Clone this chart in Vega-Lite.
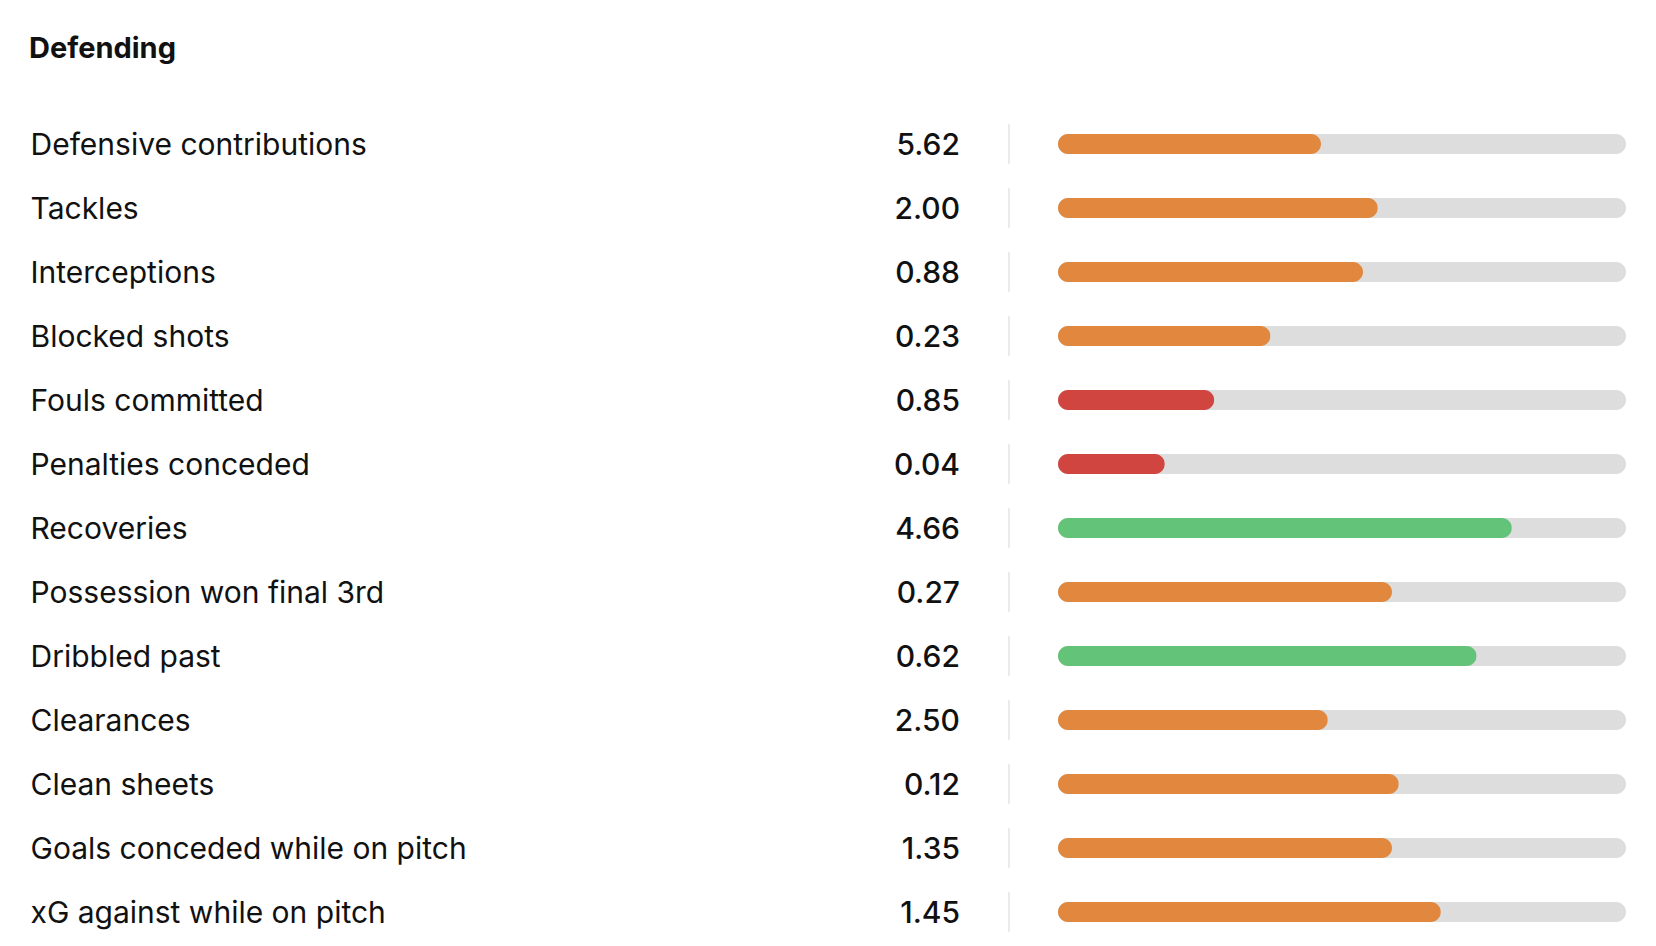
{
  "$schema": "https://vega.github.io/schema/vega-lite/v6.json",
  "width": 568,
  "height": 832,
  "autosize": {"type": "none"},
  "padding": {"left": 1058, "right": 30, "top": 112, "bottom": 2},
  "background": "#ffffff",
  "title": {
    "text": "Defending",
    "anchor": "start",
    "frame": "bounds",
    "font": "Inter",
    "fontSize": 29,
    "fontWeight": "bold",
    "color": "#111111",
    "baseline": "alphabetic",
    "offset": 25,
    "dx": -1
  },
  "config": {
    "view": {"stroke": null},
    "font": "Inter"
  },
  "data": {
    "values": [
      {"stat": "Defensive contributions", "value": "5.62", "pct": 46.3, "tier": "average"},
      {"stat": "Tackles", "value": "2.00", "pct": 56.3, "tier": "average"},
      {"stat": "Interceptions", "value": "0.88", "pct": 53.7, "tier": "average"},
      {"stat": "Blocked shots", "value": "0.23", "pct": 37.4, "tier": "average"},
      {"stat": "Fouls committed", "value": "0.85", "pct": 27.5, "tier": "poor"},
      {"stat": "Penalties conceded", "value": "0.04", "pct": 18.8, "tier": "poor"},
      {"stat": "Recoveries", "value": "4.66", "pct": 79.9, "tier": "good"},
      {"stat": "Possession won final 3rd", "value": "0.27", "pct": 58.8, "tier": "average"},
      {"stat": "Dribbled past", "value": "0.62", "pct": 73.7, "tier": "good"},
      {"stat": "Clearances", "value": "2.50", "pct": 47.5, "tier": "average"},
      {"stat": "Clean sheets", "value": "0.12", "pct": 60.0, "tier": "average"},
      {"stat": "Goals conceded while on pitch", "value": "1.35", "pct": 58.8, "tier": "average"},
      {"stat": "xG against while on pitch", "value": "1.45", "pct": 67.4, "tier": "average"}
    ]
  },
  "encoding": {
    "y": {
      "field": "stat",
      "type": "nominal",
      "sort": null,
      "scale": {"paddingInner": 0, "paddingOuter": 0},
      "axis": {
        "title": null,
        "domain": false,
        "ticks": false,
        "grid": false,
        "labelAlign": "left",
        "labelBaseline": "middle",
        "labelPadding": 1028,
        "labelOffset": 2,
        "labelFont": "Inter",
        "labelFontSize": 30,
        "labelFontWeight": "normal",
        "labelColor": "#111111",
        "labelLimit": 0
      }
    }
  },
  "layer": [
    {
      "mark": {"type": "bar", "size": 20, "cornerRadius": 10, "color": "#dddddd"},
      "encoding": {
        "x": {"datum": 100, "type": "quantitative", "scale": {"domain": [0, 100]}, "axis": null}
      }
    },
    {
      "mark": {"type": "bar", "size": 20, "cornerRadius": 10},
      "encoding": {
        "x": {"field": "pct", "type": "quantitative"},
        "color": {
          "field": "tier",
          "type": "nominal",
          "scale": {"domain": ["average", "poor", "good"], "range": ["#e2873e", "#d04540", "#63c378"]},
          "legend": null
        }
      }
    },
    {
      "mark": {"type": "tick", "orient": "vertical", "size": 40, "thickness": 2, "color": "#e3e3e3", "xOffset": -49},
      "encoding": {
        "x": {"datum": 0, "type": "quantitative"}
      }
    },
    {
      "mark": {"type": "text", "align": "right", "baseline": "middle", "dx": -98, "dy": 2, "font": "Inter", "fontSize": 30, "fontWeight": 500, "color": "#111111"},
      "encoding": {
        "x": {"datum": 0, "type": "quantitative"},
        "text": {"field": "value"}
      }
    }
  ]
}
